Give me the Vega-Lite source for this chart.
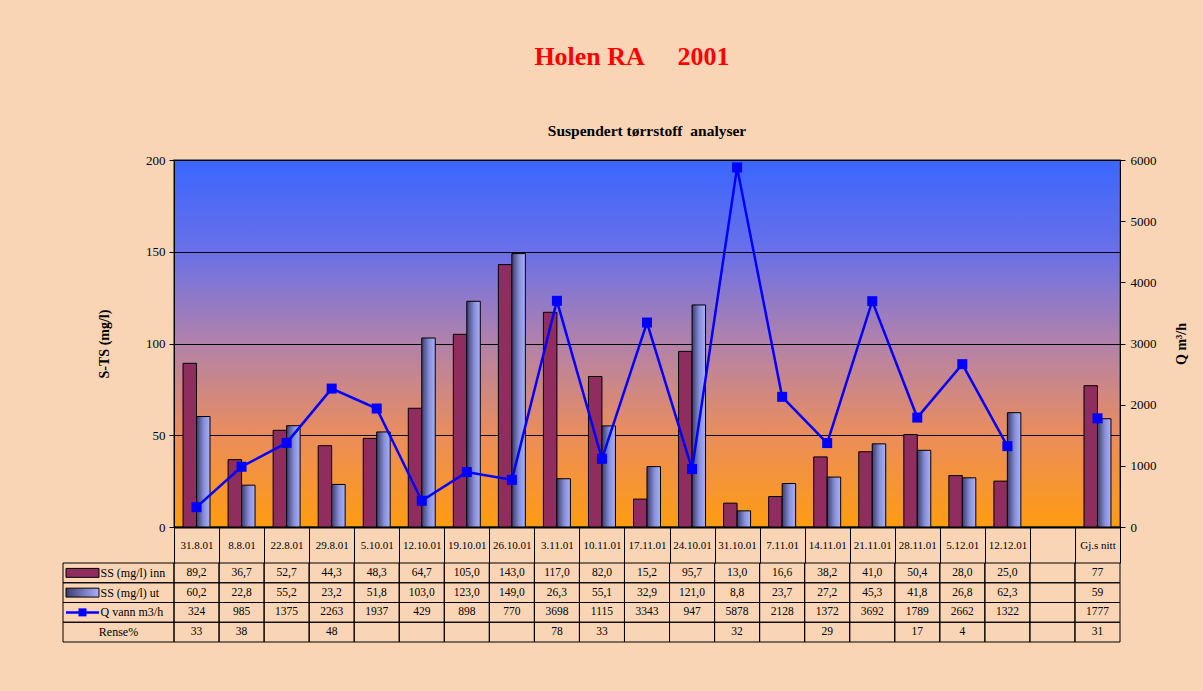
{
  "$schema": "https://vega.github.io/schema/vega-lite/v6.json",
  "background": "#f9d5b6",
  "padding": {"left": 61, "top": 43, "right": 14, "bottom": 52},
  "autosize": {"type": "pad"},
  "config": {
    "locale": {"number": {"decimal": ",", "thousands": " ", "grouping": [3], "currency": ["", ""]}},
    "view": {"stroke": null},
    "font": "Liberation Serif",
    "axis": {"labelFont": "Liberation Serif", "titleFont": "Liberation Serif", "labelColor": "black", "titleColor": "black", "tickColor": "black", "domainColor": "black"},
    "text": {"font": "Liberation Serif", "color": "black"}
  },
  "title": {"text": "Holen RA\u00a0\u00a0\u00a0\u00a0 2001", "color": "#ff0000", "fontSize": 26, "font": "Liberation Serif", "fontWeight": "bold", "anchor": "middle", "offset": 53, "dx": 7},
  "datasets": {
    "main": [
      {"cat": "31.8.01", "inn": 89.2, "ut": 60.2, "q": 324, "rense": 33},
      {"cat": "8.8.01", "inn": 36.7, "ut": 22.8, "q": 985, "rense": 38},
      {"cat": "22.8.01", "inn": 52.7, "ut": 55.2, "q": 1375, "rense": null},
      {"cat": "29.8.01", "inn": 44.3, "ut": 23.2, "q": 2263, "rense": 48},
      {"cat": "5.10.01", "inn": 48.3, "ut": 51.8, "q": 1937, "rense": null},
      {"cat": "12.10.01", "inn": 64.7, "ut": 103.0, "q": 429, "rense": null},
      {"cat": "19.10.01", "inn": 105.0, "ut": 123.0, "q": 898, "rense": null},
      {"cat": "26.10.01", "inn": 143.0, "ut": 149.0, "q": 770, "rense": null},
      {"cat": "3.11.01", "inn": 117.0, "ut": 26.3, "q": 3698, "rense": 78},
      {"cat": "10.11.01", "inn": 82.0, "ut": 55.1, "q": 1115, "rense": 33},
      {"cat": "17.11.01", "inn": 15.2, "ut": 32.9, "q": 3343, "rense": null},
      {"cat": "24.10.01", "inn": 95.7, "ut": 121.0, "q": 947, "rense": null},
      {"cat": "31.10.01", "inn": 13.0, "ut": 8.8, "q": 5878, "rense": 32},
      {"cat": "7.11.01", "inn": 16.6, "ut": 23.7, "q": 2128, "rense": null},
      {"cat": "14.11.01", "inn": 38.2, "ut": 27.2, "q": 1372, "rense": 29},
      {"cat": "21.11.01", "inn": 41.0, "ut": 45.3, "q": 3692, "rense": null},
      {"cat": "28.11.01", "inn": 50.4, "ut": 41.8, "q": 1789, "rense": 17},
      {"cat": "5.12.01", "inn": 28.0, "ut": 26.8, "q": 2662, "rense": 4},
      {"cat": "12.12.01", "inn": 25.0, "ut": 62.3, "q": 1322, "rense": null},
      {"cat": " ", "inn": null, "ut": null, "q": null, "rense": null},
      {"cat": "Gj.s nitt", "inn": 77, "ut": 59, "q": 1777, "rense": 31}
    ],
    "rows": [
      {"key": "inn", "label": "SS (mg/l) inn"},
      {"key": "ut", "label": "SS (mg/l) ut"},
      {"key": "q", "label": "Q vann m3/h"},
      {"key": "rense", "label": "Rense%"}
    ]
  },
  "columns": 2,
  "spacing": {"row": 36, "column": 0},
  "bounds": "flush",
  "align": "each",
  "concat": [
    {
      "width": 111, "height": 367,
      "data": {"values": [{}]},
      "mark": {"type": "text", "text": ""},
      "encoding": {}
    },
    {
      "width": 946, "height": 367,
      "view": {
        "fill": {"gradient": "linear", "x1": 0, "y1": 0, "x2": 0, "y2": 1, "stops": [
          {"offset": 0, "color": "#3a66ff"},
          {"offset": 0.25, "color": "#6a70e8"},
          {"offset": 0.5, "color": "#b282aa"},
          {"offset": 0.75, "color": "#eb8d5c"},
          {"offset": 1, "color": "#ff9c10"}
        ]},
        "stroke": "#555555", "strokeWidth": 1.5
      },
      "title": {"text": "Suspendert tørrstoff\u00a0 analyser", "fontSize": 15.5, "fontWeight": "bold", "color": "black", "offset": 15, "anchor": "middle", "font": "Liberation Serif"},
      "data": {"name": "main"},
      "layer": [
        {
          "transform": [{"fold": ["inn", "ut"], "as": ["series", "v"]}],
          "encoding": {
            "x": {"field": "cat", "type": "nominal", "sort": null,
              "scale": {"domain": ["31.8.01", "8.8.01", "22.8.01", "29.8.01", "5.10.01", "12.10.01", "19.10.01", "26.10.01", "3.11.01", "10.11.01", "17.11.01", "24.10.01", "31.10.01", "7.11.01", "14.11.01", "21.11.01", "28.11.01", "5.12.01", "12.12.01", " ", "Gj.s nitt"], "paddingInner": 0, "paddingOuter": 0},
              "axis": {"title": null, "tickBand": "extent", "tickSize": 36, "tickWidth": 1, "labelPadding": -18, "labelBaseline": "middle", "labelFontSize": 11, "labelOverlap": false, "labelBound": false, "labelFlush": false, "labelAngle": 0, "domainWidth": 2, "grid": false}},
            "xOffset": {"field": "series", "type": "nominal", "scale": {"domain": ["inn", "ut"], "paddingInner": 0, "paddingOuter": 0.67}},
            "y": {"field": "v", "type": "quantitative", "scale": {"domain": [0, 200], "nice": false},
              "axis": {"title": "S-TS (mg/l)", "values": [0, 50, 100, 150, 200], "grid": true, "gridColor": "black", "gridWidth": 1, "gridOpacity": 1, "tickSize": 5, "labelPadding": 4, "labelFontSize": 13, "titleFontSize": 14, "titleFontWeight": "bold", "titlePadding": 34, "domainWidth": 1}}
          },
          "layer": [
            {
              "transform": [{"filter": "datum.series === 'inn'"}],
              "mark": {"type": "bar", "fill": "#8f2d5e", "stroke": "black", "strokeWidth": 1}
            },
            {
              "transform": [{"filter": "datum.series === 'ut'"}],
              "mark": {"type": "bar", "stroke": "black", "strokeWidth": 1,
                "fill": {"gradient": "linear", "x1": 0, "y1": 0, "x2": 1, "y2": 0, "stops": [
                  {"offset": 0, "color": "#3c3c6c"},
                  {"offset": 0.55, "color": "#8890d8"},
                  {"offset": 1, "color": "#a8b0ff"}
                ]}}
            }
          ]
        },
        {
          "encoding": {
            "x": {"field": "cat", "type": "nominal", "sort": null},
            "y": {"field": "q", "type": "quantitative", "scale": {"domain": [0, 6000], "nice": false},
              "axis": {"orient": "right", "title": "Q m³/h", "titleAngle": 270, "values": [0, 1000, 2000, 3000, 4000, 5000, 6000], "format": "d", "grid": false, "tickSize": 5, "labelPadding": 5, "labelFontSize": 13, "titleFontSize": 14, "titleFontWeight": "bold", "titlePadding": 32, "domainWidth": 1}}
          },
          "layer": [
            {
              "transform": [{"filter": {"not": {"field": "cat", "oneOf": ["Gj.s nitt", " "]}}}],
              "mark": {"type": "line", "color": "#0000ff", "strokeWidth": 2.5}
            },
            {
              "transform": [{"filter": "isValid(datum.q)"}],
              "mark": {"type": "point", "shape": "square", "filled": true, "color": "#0000ff", "size": 100, "opacity": 1}
            }
          ]
        }
      ],
      "resolve": {"scale": {"y": "independent"}}
    },
    {
      "width": 111, "height": 79,
      "data": {"name": "rows"},
      "encoding": {
        "y": {"field": "key", "type": "nominal", "sort": null, "scale": {"domain": ["inn", "ut", "q", "rense"], "paddingInner": 0, "paddingOuter": 0}, "axis": null}
      },
      "layer": [
        {"mark": {"type": "rect", "filled": false, "stroke": "black", "strokeWidth": 1}},
        {
          "transform": [{"filter": "datum.key !== 'rense'"}],
          "mark": {"type": "text", "align": "left", "dx": -18, "fontSize": 12, "letterSpacing": 0.4},
          "encoding": {"text": {"field": "label"}}
        },
        {
          "transform": [{"filter": "datum.key === 'rense'"}],
          "mark": {"type": "text", "align": "center", "fontSize": 12, "letterSpacing": 1.8},
          "encoding": {"text": {"field": "label"}}
        },
        {
          "transform": [{"filter": "datum.key === 'inn'"}],
          "mark": {"type": "point", "shape": "M-1,-0.27H1V0.27H-1Z", "size": 1089, "filled": true, "fill": "#8f2d5e", "stroke": "black", "strokeWidth": 1, "opacity": 1, "xOffset": -36}
        },
        {
          "transform": [{"filter": "datum.key === 'ut'"}],
          "mark": {"type": "point", "shape": "M-1,-0.27H1V0.27H-1Z", "size": 1089, "filled": true, "stroke": "black", "strokeWidth": 1, "opacity": 1, "xOffset": -36,
            "fill": {"gradient": "linear", "x1": 0, "y1": 0, "x2": 1, "y2": 0, "stops": [
              {"offset": 0, "color": "#3c3c6c"},
              {"offset": 1, "color": "#a8b0ff"}
            ]}}
        },
        {
          "transform": [{"filter": "datum.key === 'q'"}],
          "mark": {"type": "point", "shape": "M-1,0H1", "size": 1089, "filled": false, "stroke": "#0000ff", "strokeWidth": 2.5, "opacity": 1, "xOffset": -36}
        },
        {
          "transform": [{"filter": "datum.key === 'q'"}],
          "mark": {"type": "point", "shape": "square", "size": 64, "filled": true, "color": "#0000ff", "opacity": 1, "xOffset": -36}
        }
      ]
    },
    {
      "width": 946, "height": 79,
      "data": {"name": "main"},
      "transform": [{"fold": ["inn", "ut", "q", "rense"], "as": ["key", "val"]}],
      "encoding": {
        "x": {"field": "cat", "type": "nominal", "sort": null, "scale": {"domain": ["31.8.01", "8.8.01", "22.8.01", "29.8.01", "5.10.01", "12.10.01", "19.10.01", "26.10.01", "3.11.01", "10.11.01", "17.11.01", "24.10.01", "31.10.01", "7.11.01", "14.11.01", "21.11.01", "28.11.01", "5.12.01", "12.12.01", " ", "Gj.s nitt"], "paddingInner": 0, "paddingOuter": 0}, "axis": null},
        "y": {"field": "key", "type": "nominal", "sort": null, "scale": {"domain": ["inn", "ut", "q", "rense"], "paddingInner": 0, "paddingOuter": 0}, "axis": null}
      },
      "layer": [
        {"mark": {"type": "rect", "filled": false, "stroke": "black", "strokeWidth": 1}},
        {
          "transform": [{"filter": "isValid(datum.val) && (datum.key === 'inn' || datum.key === 'ut') && datum.cat !== 'Gj.s nitt'"}],
          "mark": {"type": "text", "fontSize": 11.5},
          "encoding": {"text": {"field": "val", "type": "quantitative", "format": ".1f"}}
        },
        {
          "transform": [{"filter": "isValid(datum.val) && !((datum.key === 'inn' || datum.key === 'ut') && datum.cat !== 'Gj.s nitt')"}],
          "mark": {"type": "text", "fontSize": 11.5},
          "encoding": {"text": {"field": "val", "type": "quantitative", "format": "d"}}
        }
      ]
    }
  ]
}
